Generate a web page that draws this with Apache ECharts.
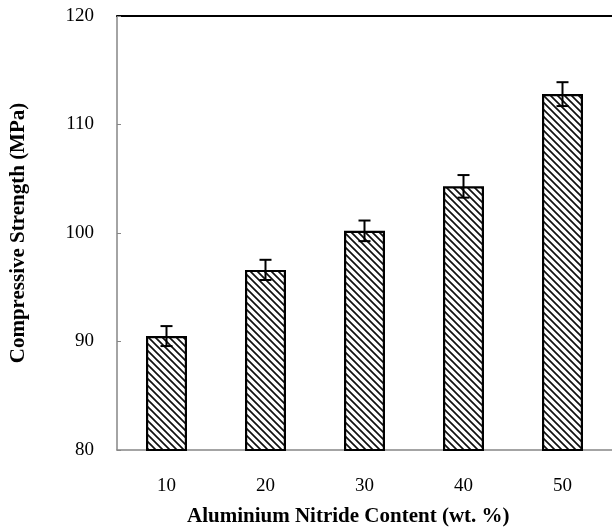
<!DOCTYPE html>
<html>
<head>
<meta charset="utf-8">
<script src="https://cdn.jsdelivr.net/npm/echarts@6/dist/echarts.min.js"></script>
<style>html,body{margin:0;padding:0;background:#fff}#c{width:612px;height:528px}</style>
</head>
<body>
<div id="c"></div>
<script>
var categories = ['10', '20', '30', '40', '50'];
var strength = [90.5, 96.6, 100.2, 104.3, 112.8];
var errors = [0.92, 0.93, 0.95, 1.04, 1.1];
var yTicks = [80, 90, 100, 110, 120];

// hatch pattern
var P = 7;
var pc = document.createElement('canvas');
pc.width = P; pc.height = P;
var g = pc.getContext('2d');
g.fillStyle = '#fff'; g.fillRect(0, 0, P, P);
g.strokeStyle = '#111'; g.lineWidth = 1.7;
g.beginPath();
for (var k = -1; k <= 1; k++) {
  g.moveTo(k * P - 2, -2); g.lineTo(k * P + P + 2, P + 2);
}
g.stroke();

var chart = echarts.init(document.getElementById('c'), null, {renderer: 'canvas'});
var serif = '"Liberation Serif", "Times New Roman", serif';
chart.setOption({
  animation: false,
  backgroundColor: '#fff',
  grid: {left: 117, top: 16, bottom: 78, width: 497},
  xAxis: [{
    type: 'category',
    data: categories,
    axisLine: {lineStyle: {color: '#868686', width: 1.5}},
    axisTick: {inside: true, length: 5, lineStyle: {color: '#868686'}},
    axisLabel: {color: '#000', fontFamily: serif, fontSize: 19, margin: 27}
  }, {
    type: 'category',
    data: categories,
    position: 'top',
    axisLine: {lineStyle: {color: '#000', width: 2}},
    axisTick: {show: false},
    axisLabel: {show: false}
  }],
  yAxis: {
    type: 'value',
    min: yTicks[0],
    max: yTicks[yTicks.length - 1],
    interval: 10,
    name: 'Compressive Strength (MPa)',
    nameLocation: 'middle',
    nameGap: 88,
    nameTextStyle: {color: '#000', fontFamily: serif, fontSize: 21, fontWeight: 'bold'},
    axisLine: {show: true, lineStyle: {color: '#868686', width: 1.5}},
    axisTick: {show: true, inside: true, length: 4, lineStyle: {color: '#868686'}},
    axisLabel: {color: '#000', fontFamily: serif, fontSize: 19, margin: 23},
    splitLine: {show: false}
  },
  graphic: [{
    type: 'text',
    left: 187,
    top: 506,
    style: {text: 'Aluminium Nitride Content (wt. %)', font: 'bold 21px ' + serif, fill: '#000'}
  }],
  series: [{
    type: 'bar',
    data: strength,
    barWidth: 41,
    itemStyle: {color: {image: pc, repeat: 'repeat'}, borderColor: '#000', borderWidth: 2.2}
  }, {
    type: 'custom',
    data: strength.map(function (v, i) { return [i, v - errors[i], v + errors[i]]; }),
    renderItem: function (params, api) {
      var x = api.value(0);
      var lo = api.coord([x, api.value(1)]);
      var hi = api.coord([x, api.value(2)]);
      var hw = 6;
      var st = {stroke: '#000', lineWidth: 2};
      return {
        type: 'group',
        children: [
          {type: 'line', shape: {x1: hi[0], y1: hi[1], x2: lo[0], y2: lo[1]}, style: st},
          {type: 'line', shape: {x1: hi[0] - hw, y1: hi[1], x2: hi[0] + hw, y2: hi[1]}, style: st},
          {type: 'line', shape: {x1: lo[0] - hw, y1: lo[1], x2: lo[0] + hw, y2: lo[1]}, style: st}
        ]
      };
    },
    z: 10
  }]
});
</script>
</body>
</html>
